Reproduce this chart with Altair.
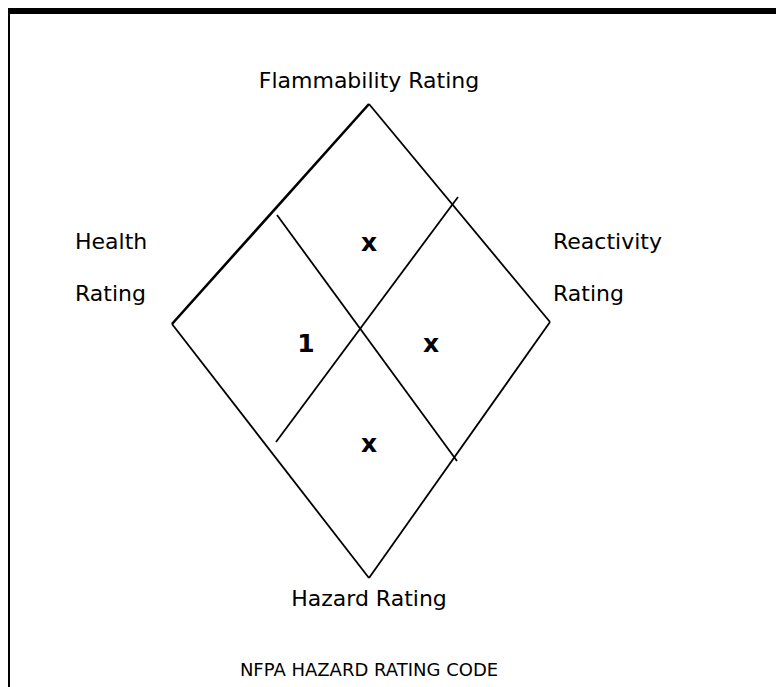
import altair as alt
import pandas as pd

# Diagram coordinates (x to the right, y downward)
diamond_top = (369, 104)
diamond_right = (550, 322)
diamond_bottom = (369, 578)
diamond_left = (172, 324)

# interior divider segments
div_x1 = [277, 458]
div_y1 = [215, 197]
div_x2 = [457, 276]
div_y2 = [461, 442]

# labels
label_text = ["Flammability Rating", "Health", "Rating", "Reactivity", "Rating", "Hazard Rating"]
label_x = [369, 75, 75, 553, 553, 369]
label_y = [88, 249, 301, 249, 301, 606]
label_align = ["center", "left", "left", "left", "left", "center"]

rating_text = ["x", "1", "x", "x"]
rating_x = [369, 306, 431, 369]
rating_y = [251, 352, 352, 452]

caption = "NFPA HAZARD RATING CODE"

W, H = 768, 679
xs = alt.Scale(domain=[8, 8 + W], nice=False, zero=False)
ys = alt.Scale(domain=[8, 8 + H], nice=False, zero=False, reverse=True)

def seg_df(pts):
    return pd.DataFrame([{"x": a[0], "y": a[1], "x2": b[0], "y2": b[1]} for a, b in pts])

thick_edges = seg_df([(diamond_left, diamond_top)])
edges = seg_df([(diamond_top, diamond_right), (diamond_right, diamond_bottom), (diamond_bottom, diamond_left)])
dividers = pd.DataFrame({"x": div_x1, "y": div_y1, "x2": div_x2, "y2": div_y2})

def rule_layer(df, w):
    return alt.Chart(df).mark_rule(color="black", strokeWidth=w).encode(
        x=alt.X("x:Q", scale=xs, axis=None),
        y=alt.Y("y:Q", scale=ys, axis=None),
        x2="x2:Q", y2="y2:Q")

border = pd.DataFrame({"x": [8, 8], "x2": [776, 10], "y": [8, 8], "y2": [14, 687]})
border_layer = alt.Chart(border).mark_rect(color="black").encode(
    x=alt.X("x:Q", scale=xs, axis=None), x2="x2:Q",
    y=alt.Y("y:Q", scale=ys, axis=None), y2="y2:Q")

labels = pd.DataFrame({"t": label_text, "x": label_x, "y": label_y, "a": label_align})
text_layers = []
for al in ["center", "left"]:
    text_layers.append(
        alt.Chart(labels[labels.a == al]).mark_text(
            font="DejaVu Sans", fontSize=22, align=al, baseline="alphabetic", color="black"
        ).encode(x=alt.X("x:Q", scale=xs, axis=None), y=alt.Y("y:Q", scale=ys, axis=None), text="t:N"))

ratings = pd.DataFrame({"t": rating_text, "x": rating_x, "y": rating_y})
rating_layer = alt.Chart(ratings).mark_text(
    font="DejaVu Sans", fontSize=25, fontWeight="bold", align="center", baseline="alphabetic", color="black"
).encode(x=alt.X("x:Q", scale=xs, axis=None), y=alt.Y("y:Q", scale=ys, axis=None), text="t:N")

cap_df = pd.DataFrame({"t": [caption], "x": [369], "y": [676]})
cap_layer = alt.Chart(cap_df).mark_text(
    font="DejaVu Sans", fontSize=18, align="center", baseline="alphabetic", color="black"
).encode(x=alt.X("x:Q", scale=xs, axis=None), y=alt.Y("y:Q", scale=ys, axis=None), text="t:N")

chart = alt.layer(
    border_layer,
    rule_layer(thick_edges, 2.6),
    rule_layer(edges, 1.8),
    rule_layer(dividers, 1.8),
    *text_layers,
    rating_layer,
    cap_layer,
).properties(
    width=W, height=H, autosize=alt.AutoSizeParams(type="none"), padding=0
).configure_view(stroke=None)

chart.save("out.html", embed_options={"renderer": "svg", "actions": False})
